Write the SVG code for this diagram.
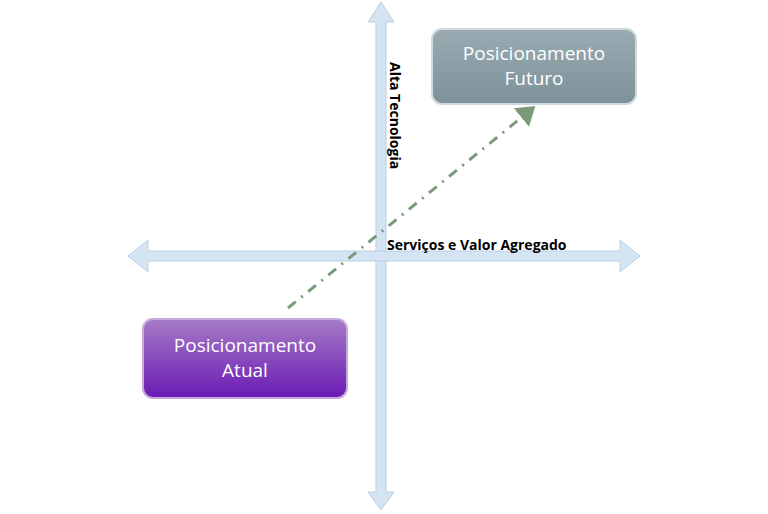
<svg xmlns="http://www.w3.org/2000/svg" width="768" height="514" viewBox="0 0 768 514">
<defs>
<linearGradient id="gf" x1="0" y1="0" x2="0" y2="1"><stop offset="0" stop-color="#9aacb2"/><stop offset="1" stop-color="#7d9199"/></linearGradient>
<linearGradient id="ga" x1="0" y1="0" x2="0" y2="1"><stop offset="0" stop-color="#a67cc6"/><stop offset="1" stop-color="#6a1ab4"/></linearGradient>
<marker id="ah" markerWidth="8" markerHeight="8" refX="5" refY="4" orient="auto" markerUnits="strokeWidth"><path d="M0,0 L6,4 L0,8 Z" fill="#7a9a7a"/></marker>
<style>
.ax{fill:#d4e4f2;stroke:#b8cfe3;stroke-width:1}
.lbl{font-family:"Open Sans","Liberation Sans",sans-serif;font-weight:bold;font-size:14px;fill:#000}
.bt{font-family:"Open Sans","Liberation Sans",sans-serif;font-size:19px;fill:#fff;text-anchor:middle}
</style>
</defs>
<g id="connectors">
<path class="ax" d="M376,22 L368,22 L381,2 L394,22 L386,22 L386,492 L394,492 L381,510 L368,492 L376,492 Z"/>
<path class="ax" d="M148,251 L148,240 L128,256 L148,272 L148,261 L620,261 L620,272 L640,256 L620,240 L620,251 Z"/>
<line x1="288" y1="308" x2="533" y2="108" stroke="#7a9a7a" stroke-width="3" stroke-dasharray="10,7,2,7" marker-end="url(#ah)"/>
</g>
<g id="label-y"><text class="lbl" transform="translate(390,62) rotate(90)">Alta Tecnologia</text></g>
<g id="label-x"><text class="lbl" x="387" y="250">Serviços e Valor Agregado</text></g>
<g id="futuro">
<rect x="432" y="29" width="204" height="75" rx="10" fill="url(#gf)" stroke="#cfd9dd" stroke-width="2"/>
<text class="bt" x="534" y="60">Posicionamento</text>
<text class="bt" x="534" y="85">Futuro</text>
</g>
<g id="atual">
<rect x="143" y="319" width="204" height="79" rx="10" fill="url(#ga)" stroke="#c7a8dc" stroke-width="2"/>
<text class="bt" x="245" y="352">Posicionamento</text>
<text class="bt" x="245" y="377">Atual</text>
</g>
</svg>
